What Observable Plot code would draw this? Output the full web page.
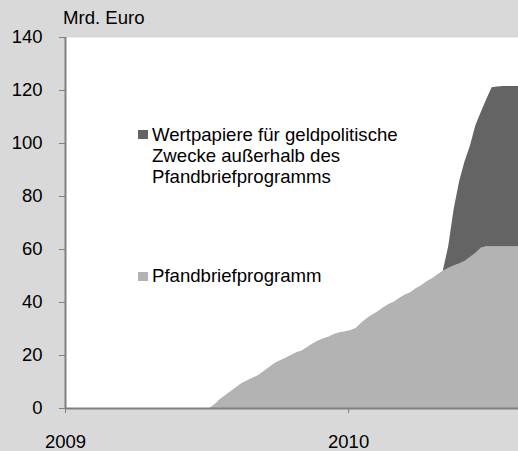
<!DOCTYPE html>
<html>
<head>
<meta charset="utf-8">
<script src="https://cdn.jsdelivr.net/npm/d3@7"></script>
<script src="https://cdn.jsdelivr.net/npm/@observablehq/plot@0.6"></script>
<style>
  html, body { margin: 0; padding: 0; background: #d9d9d9; }
  #wrap { position: relative; width: 518px; height: 451px; background: #d9d9d9; font-family: "Liberation Sans", Arial, sans-serif; color: #000; overflow: hidden; }
  #wrap svg { position: absolute; left: 0; top: 0; }
  .lab { position: absolute; font-size: 18.6px; line-height: 21px; white-space: nowrap; }
  .sw { position: absolute; width: 10px; height: 9px; }
</style>
</head>
<body>
<div id="wrap"></div>
<script>
// Weekly observation dates
const dates = [
  "2009-07-06","2009-07-13","2009-07-20","2009-07-27","2009-08-03","2009-08-10","2009-08-17","2009-08-24","2009-08-31",
  "2009-09-07","2009-09-14","2009-09-21","2009-09-28","2009-10-05","2009-10-12","2009-10-19","2009-10-26",
  "2009-11-02","2009-11-09","2009-11-16","2009-11-23","2009-11-30","2009-12-07","2009-12-14","2009-12-21","2009-12-28",
  "2010-01-04","2010-01-11","2010-01-18","2010-01-25","2010-02-01","2010-02-08","2010-02-15","2010-02-22",
  "2010-03-01","2010-03-08","2010-03-15","2010-03-22","2010-03-29","2010-04-05","2010-04-12","2010-04-19","2010-04-26",
  "2010-05-03","2010-05-10","2010-05-17","2010-05-24","2010-05-31","2010-06-07","2010-06-14","2010-06-21","2010-06-28",
  "2010-07-05","2010-07-12","2010-07-19","2010-07-26","2010-08-02","2010-08-09"
];
// Mrd. Euro
const pfandbrief = [
  0,1.5,3.5,5,6.5,8,9.5,10.5,11.5,
  12.5,14,15.5,17,18,19,20,21,
  21.7,23,24.3,25.5,26.3,27,28,28.6,29,
  29.4,30.3,32.3,34,35.3,36.5,38,39.2,
  40.2,41.6,42.8,43.7,45.2,46.3,47.8,49,50.5,
  51.8,52.8,53.8,54.5,55.5,57,58.5,60.5,61,
  61,61,61,61,61,61
];
const wertpapiere = [
  0,0,0,0,0,0,0,0,0,
  0,0,0,0,0,0,0,0,
  0,0,0,0,0,0,0,0,0,
  0,0,0,0,0,0,0,0,
  0,0,0,0,0,0,0,0,0,
  0,8.2,21.2,31,37.5,42,48.2,51.2,55.5,
  60,60.3,60.5,60.5,60.5,60.5
];
const seriesNames = ["Pfandbriefprogramm", "Wertpapiere für geldpolitische Zwecke außerhalb des Pfandbriefprogramms"];
const seriesColors = ["#b3b3b3", "#646464"];
const yTicks = [0, 20, 40, 60, 80, 100, 120, 140];
const xTickDates = ["2009-01-01", "2010-01-01"];
const xDomain = ["2009-01-01", "2010-08-08"];
const unitLabel = "Mrd. Euro";

const rows = dates.flatMap((d, i) => [
  {date: new Date(d), series: seriesNames[0], value: pfandbrief[i]},
  {date: new Date(d), series: seriesNames[1], value: wertpapiere[i]}
]);

const axisColor = "#808080";
const font = "Liberation Sans, Arial, sans-serif";

const chart = Plot.plot({
  width: 518,
  height: 451,
  marginLeft: 65,
  marginRight: 0,
  marginTop: 37,
  marginBottom: 43,
  style: {background: "transparent", fontFamily: font, fontSize: "18.5px", color: "#000", overflow: "visible"},
  x: {type: "utc", domain: xDomain.map(d => new Date(d))},
  y: {domain: [0, 140]},
  color: {domain: seriesNames, range: seriesColors},
  marks: [
    Plot.frame({fill: "white", stroke: null}),
    Plot.areaY(rows, {x: "date", y: "value", z: "series", fill: "series", order: seriesNames, curve: "linear", clip: true}),
    Plot.axisY({ticks: yTicks, tickSize: 6, tickPadding: 17, label: null, stroke: axisColor, fill: "#000", fontSize: 18.5}),
    Plot.axisX({ticks: xTickDates.map(d => new Date(d)), tickFormat: d3.utcFormat("%Y"), tickSize: 5, tickPadding: 21, label: null, stroke: axisColor, fill: "#000", fontSize: 18.5}),
    Plot.ruleX([new Date(xDomain[0])], {stroke: axisColor, strokeWidth: 2}),
    Plot.ruleY([0], {stroke: axisColor, strokeWidth: 2})
  ]
});

const wrap = document.getElementById("wrap");
wrap.appendChild(chart);

function addLabel(text, left, top) {
  const el = document.createElement("div");
  el.className = "lab";
  el.style.left = left + "px";
  el.style.top = top + "px";
  el.innerHTML = text;
  wrap.appendChild(el);
}
function addSwatch(color, left, top) {
  const el = document.createElement("div");
  el.className = "sw";
  el.style.left = left + "px";
  el.style.top = top + "px";
  el.style.background = color;
  wrap.appendChild(el);
}
addLabel(unitLabel, 63, 7);
addSwatch(seriesColors[1], 138, 130);
addLabel("Wertpapiere für geldpolitische<br>Zwecke außerhalb des<br>Pfandbriefprogramms", 152, 124);
addSwatch(seriesColors[0], 138, 272);
addLabel(seriesNames[0], 152, 265);
</script>
</body>
</html>
